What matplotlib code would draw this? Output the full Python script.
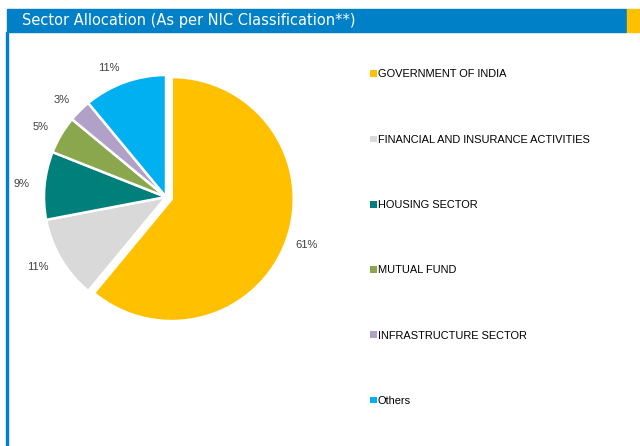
import matplotlib
matplotlib.use("Agg")
import matplotlib.pyplot as plt
from matplotlib.patches import Rectangle

sectors = [
    "GOVERNMENT OF INDIA",
    "FINANCIAL AND INSURANCE ACTIVITIES",
    "HOUSING SECTOR",
    "MUTUAL FUND",
    "INFRASTRUCTURE SECTOR",
    "Others",
]
shares = [61, 11, 9, 5, 3, 11]
colors = ["#FFC000", "#D9D9D9", "#007F7B", "#8BA74E", "#B1A0C7", "#00B0F0"]
title = "Sector Allocation (As per NIC Classification**)"

W, H = 640, 446
fig = plt.figure(figsize=(W / 100, H / 100), dpi=100)
fig.patch.set_facecolor("white")

# header bar + accent block + left rule
fig.patches.append(Rectangle((7 / W, 1 - 32 / H), 619 / W, 23 / H,
                             transform=fig.transFigure, color="#0080C6", zorder=0))
fig.patches.append(Rectangle((627 / W, 1 - 32 / H), 13 / W, 23 / H,
                             transform=fig.transFigure, color="#FFC000", zorder=0))
fig.patches.append(Rectangle((6 / W, 0), 2.2 / W, 1 - 32 / H,
                             transform=fig.transFigure, color="#0080C6", zorder=0))
fig.text(22 / W, 1 - 20.5 / H, title, color="white", fontsize=10.5,
         family="DejaVu Sans", va="center", ha="left")

# pie centred at (166, 197) px, radius 122 px
cx, cy, r = 166, 197, 122
ax = fig.add_axes([(cx - r) / W, (H - cy - r) / H, 2 * r / W, 2 * r / H])
explode = [0.05, 0, 0, 0, 0, 0]
wedges, texts = ax.pie(
    shares, colors=colors, startangle=90, counterclock=False, explode=explode,
    labels=[f"{v}%" for v in shares], labeldistance=1.12,
    wedgeprops=dict(edgecolor="white", linewidth=1.8),
    textprops=dict(fontsize=8, color="#404040", family="Liberation Sans"),
)
# pull the big slice's label a little closer in
tx, ty = texts[0].get_position()
texts[0].set_position((tx - 0.04, ty))
ax.set_xlim(-1, 1)
ax.set_ylim(-1, 1)
ax.set_aspect("equal")
ax.axis("off")

fig.legend(wedges, sectors, loc="upper left", bbox_to_anchor=(365 / W, 1 - 64 / H),
           frameon=False, handlelength=0.55, handleheight=0.55, handletextpad=0.12,
           labelspacing=5.04, borderpad=0,
           prop=dict(family="Liberation Sans", size=7.9))
for h in fig.legends[0].legend_handles:
    h.set_edgecolor("none")

fig.savefig("out.png", dpi=100)
